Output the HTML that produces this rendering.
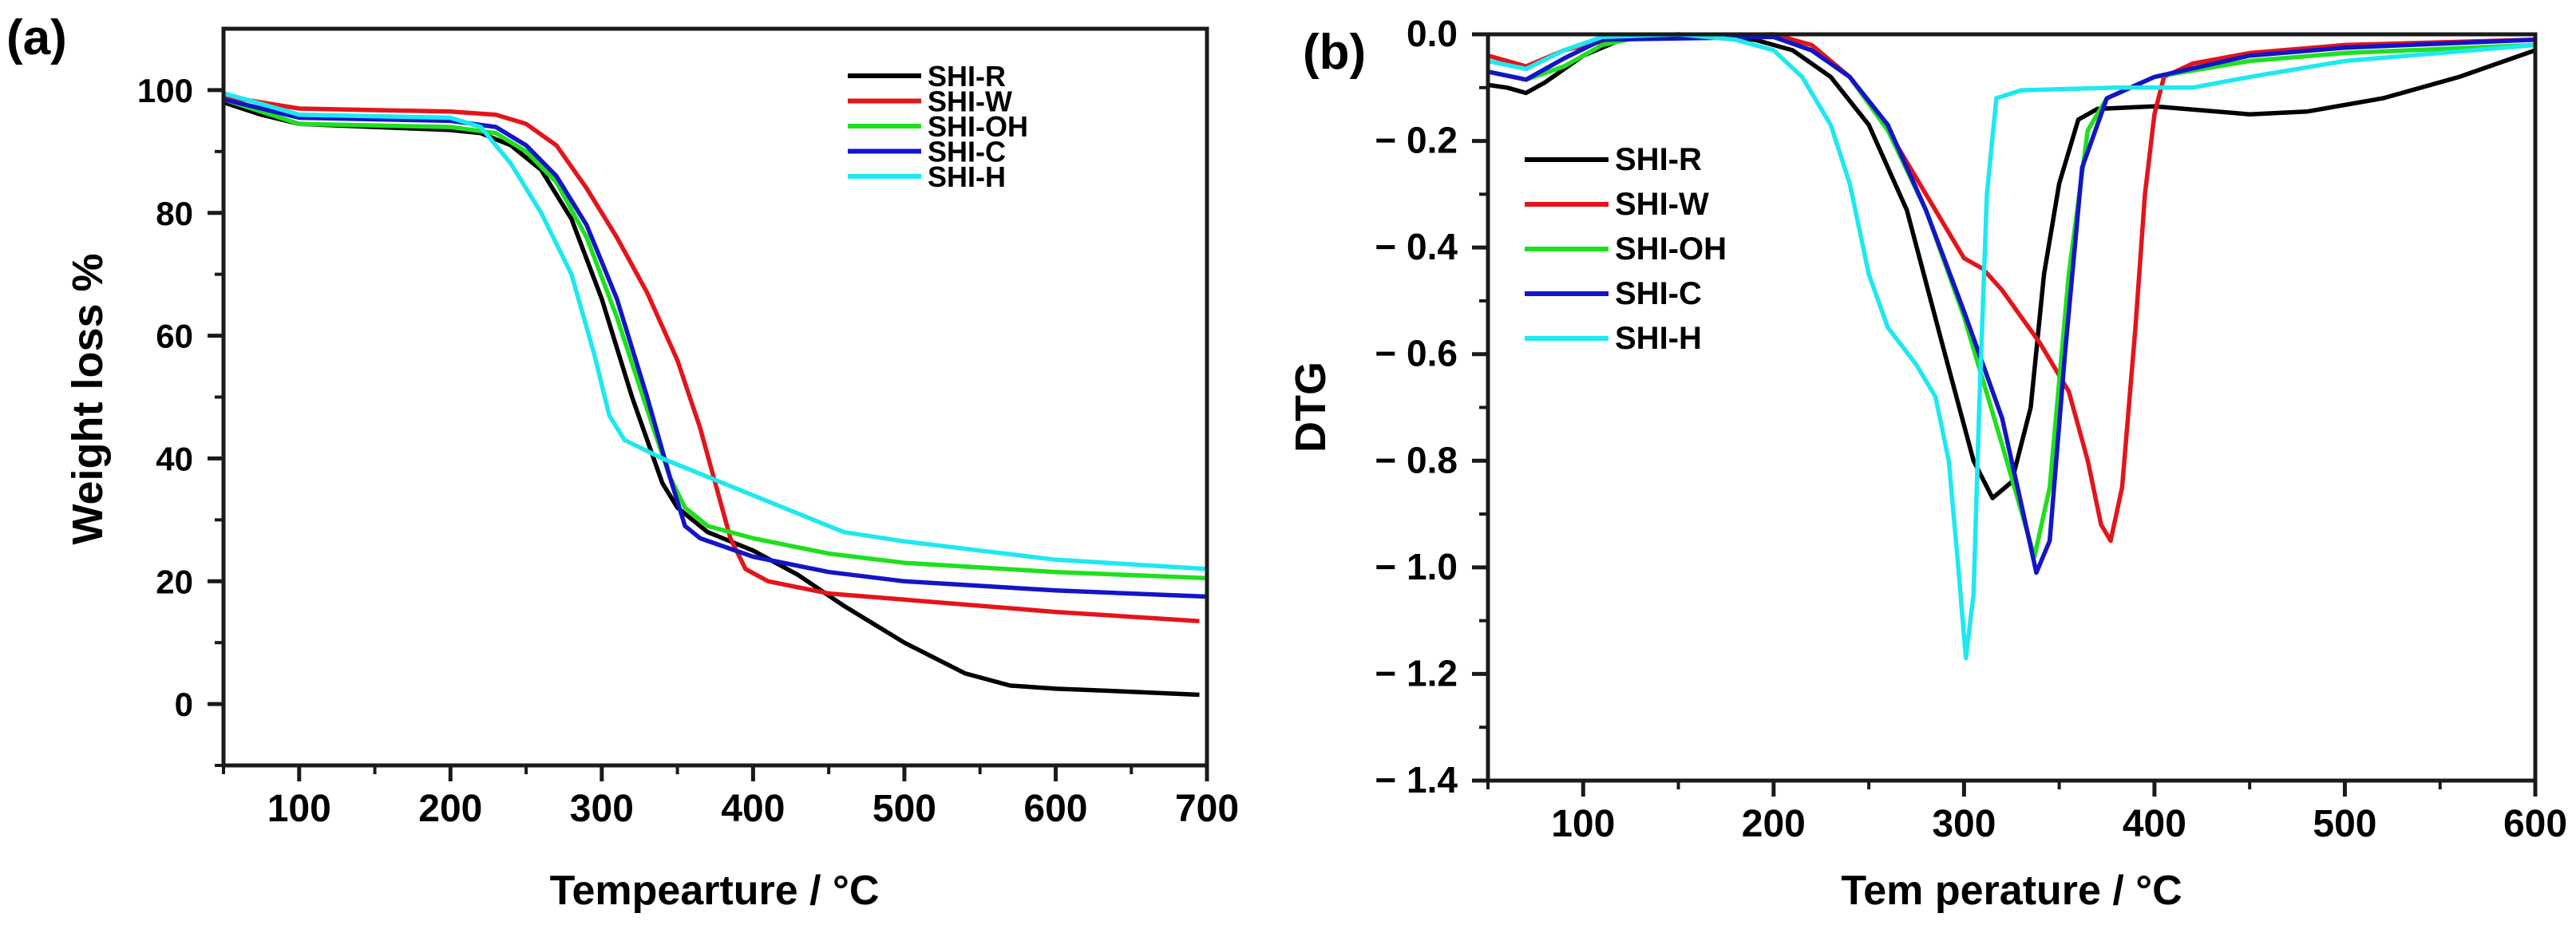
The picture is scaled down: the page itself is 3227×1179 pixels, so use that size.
<!DOCTYPE html>
<html><head><meta charset="utf-8"><style>
html,body{margin:0;padding:0;background:#fff;}
svg{display:block;font-family:"Liberation Sans",Arial,sans-serif;font-weight:bold;}
</style></head><body>
<svg id="fig" width="3227" height="1179" viewBox="0 0 3227 1179" xmlns="http://www.w3.org/2000/svg">
<text x="8" y="68" font-size="62">(a)</text>
<text x="1632" y="86" font-size="62">(b)</text>
<text x="895" y="1133" font-size="52" text-anchor="middle">Tempearture / °C</text>
<text transform="translate(128,500) rotate(-90)" font-size="54" text-anchor="middle">Weight loss %</text>
<text x="2520" y="1133" font-size="52" text-anchor="middle">Tem perature / °C</text>
<text transform="translate(1660,510) rotate(-90)" font-size="54" text-anchor="middle">DTG</text>
<g id="ga"></g>
<g id="gb"></g>
</svg>
<script>
const seriesNames = ["SHI-R","SHI-W","SHI-OH","SHI-C","SHI-H"];
const seriesColors = ["#000000","#e3151a","#1ee01e","#1414c8","#1ee8f0"];
const aXTicks = [100,200,300,400,500,600,700];
const aYTicks = [0,20,40,60,80,100];
const bXTicks = [100,200,300,400,500,600];
const bYTicks = [0,-0.2,-0.4,-0.6,-0.8,-1.0,-1.2,-1.4];
const bYTickLabels = ["0.0","\u2212 0.2","\u2212 0.4","\u2212 0.6","\u2212 0.8","\u2212 1.0","\u2212 1.2","\u2212 1.4"];
const tgaR = [[50,98],[75,96],[100,94.5],[150,94],[200,93.5],[220,93],[240,91],[260,87],[280,79],[300,66],[320,50],[340,36],[350,32],[370,28],[400,25],[430,21],[460,16],[500,10],[540,5],[570,3],[600,2.5],[650,2],[695,1.5]];
const tgaW = [[50,99],[100,97],[200,96.5],[230,96],[250,94.5],[270,91],[290,84],[310,76],[330,67],[350,56],[365,45],[375,36],[385,27],[395,22],[410,20],[450,18],[500,17],[600,15],[695,13.5]];
const tgaOH = [[50,98.5],[100,94.5],[200,94],[230,93],[250,90],[270,85],[290,76],[310,63],[330,48],[345,37],[355,32],[370,29],[400,27],[450,24.5],[500,23],[600,21.5],[700,20.5]];
const tgaC = [[50,98.5],[100,95.5],[200,95],[230,94],[250,91],[270,86],[290,78],[310,66],[330,50],[345,37],[355,29],[365,27],[400,24],[450,21.5],[500,20],[600,18.5],[700,17.5]];
const tgaH = [[50,99.5],[100,96],[200,95.5],[220,94],[240,88],[260,80],[280,70],[295,57],[305,47],[315,43],[340,40],[380,36],[420,32],[460,28],[500,26.5],[550,25],[600,23.5],[700,22]];
const dtgR = [[50,-0.095],[60,-0.1],[70,-0.11],[80,-0.09],[100,-0.04],[120,-0.01],[150,0],[190,-0.01],[210,-0.03],[230,-0.08],[250,-0.17],[270,-0.33],[290,-0.6],[305,-0.8],[315,-0.87],[325,-0.84],[335,-0.7],[342,-0.45],[350,-0.28],[360,-0.16],[370,-0.14],[400,-0.135],[450,-0.15],[480,-0.145],[520,-0.12],[560,-0.08],[600,-0.03]];
const dtgW = [[50,-0.04],[70,-0.06],[90,-0.03],[120,-0.005],[200,0],[220,-0.02],[240,-0.08],[260,-0.18],[280,-0.3],[300,-0.42],[310,-0.44],[320,-0.48],[340,-0.58],[355,-0.67],[365,-0.8],[372,-0.92],[377,-0.95],[383,-0.85],[390,-0.55],[395,-0.3],[400,-0.15],[405,-0.08],[420,-0.055],[450,-0.035],[500,-0.02],[600,-0.01]];
const dtgOH = [[50,-0.07],[70,-0.085],[90,-0.06],[110,-0.02],[130,-0.005],[200,-0.005],[220,-0.03],[240,-0.08],[260,-0.18],[280,-0.33],[300,-0.53],[320,-0.77],[337,-0.98],[345,-0.85],[355,-0.45],[365,-0.18],[375,-0.12],[400,-0.08],[450,-0.05],[500,-0.035],[600,-0.02]];
const dtgC = [[50,-0.07],[70,-0.085],[90,-0.045],[110,-0.01],[200,-0.005],[220,-0.03],[240,-0.08],[260,-0.17],[280,-0.33],[300,-0.52],[320,-0.72],[330,-0.88],[338,-1.01],[345,-0.95],[353,-0.6],[362,-0.25],[375,-0.12],[400,-0.08],[450,-0.04],[500,-0.025],[600,-0.01]];
const dtgH = [[50,-0.05],[70,-0.065],[90,-0.03],[110,-0.005],[150,0],[180,-0.01],[200,-0.03],[215,-0.08],[230,-0.17],[240,-0.28],[250,-0.45],[260,-0.55],[275,-0.62],[285,-0.68],[292,-0.8],[297,-1.0],[301,-1.17],[305,-1.05],[308,-0.7],[312,-0.3],[317,-0.12],[330,-0.105],[380,-0.1],[420,-0.1],[450,-0.08],[500,-0.05],[600,-0.02]];

const NS="http://www.w3.org/2000/svg";
function mk(tag,attrs,parent){const e=document.createElementNS(NS,tag);for(const k in attrs)e.setAttribute(k,attrs[k]);parent.appendChild(e);return e;}

function panel(g,cfg){
  const sx=v=>cfg.x0+(v-cfg.xmin)/(cfg.xmax-cfg.xmin)*(cfg.x1-cfg.x0);
  const sy=v=>cfg.y0+(cfg.ymax-v)/(cfg.ymax-cfg.ymin)*(cfg.y1-cfg.y0);
  cfg.data.forEach((d,i)=>{
    const p=mk('path',{d:d.map((pt,j)=>(j?'L':'M')+sx(pt[0]).toFixed(1)+','+sy(pt[1]).toFixed(1)).join(''),fill:'none',stroke:seriesColors[i],'stroke-width':5.5,'stroke-linejoin':'round'},g);
    
    
  });
  const fr=mk('rect',{x:cfg.x0,y:cfg.y0,width:cfg.x1-cfg.x0,height:cfg.y1-cfg.y0,fill:'none',stroke:'#1a1a1a','stroke-width':5},g);
  
  
  cfg.xt.forEach(v=>{
    const t=mk('line',{x1:sx(v),x2:sx(v),y1:cfg.y1,y2:cfg.y1+20,stroke:'#1a1a1a','stroke-width':5},g);
    
    
    const m=mk('line',{x1:sx(v-50),x2:sx(v-50),y1:cfg.y1,y2:cfg.y1+11,stroke:'#1a1a1a','stroke-width':4},g);
    
    
    const l=mk('text',{x:sx(v),y:cfg.y1+70,'font-size':48,'text-anchor':'middle'},g);
    l.textContent=v;
    
    
  });
  cfg.yt.forEach((v,i)=>{
    const t=mk('line',{x1:cfg.x0-20,x2:cfg.x0,y1:sy(v),y2:sy(v),stroke:'#1a1a1a','stroke-width':5},g);
    
    
    const mv=v-cfg.ystep/2;
    if(mv>=cfg.ymin){
      const m=mk('line',{x1:cfg.x0-11,x2:cfg.x0,y1:sy(mv),y2:sy(mv),stroke:'#1a1a1a','stroke-width':4},g);
      
      
    }
    const l=mk('text',{x:cfg.x0-38,y:sy(v)+15,'font-size':cfg.yfs,'text-anchor':'end'},g);
    l.textContent=cfg.ytl?cfg.ytl[i]:v;
    
    
  });
  if(cfg.extraMinor){const v=cfg.ymax-cfg.ystep/2;const m=mk('line',{x1:cfg.x0-11,x2:cfg.x0,y1:sy(v),y2:sy(v),stroke:'#1a1a1a','stroke-width':4},g);}
  seriesNames.forEach((n,i)=>{
    const y=cfg.ly+i*cfg.lsp;
    const ln=mk('line',{x1:cfg.lx,x2:cfg.lx+cfg.lw,y1:y,y2:y,stroke:seriesColors[i],'stroke-width':6},g);
    
    
    const tx=mk('text',{x:cfg.lx+cfg.lw+8,y:y+13,'font-size':cfg.lfs},g);
    tx.textContent=n;
    
    
  });
}
panel(document.getElementById('ga'),{x0:280,x1:1512,y0:36,y1:959,xmin:50,xmax:700,ymin:-10,ymax:110,ystep:20,
  xt:aXTicks,yt:aYTicks,yfs:42,data:[tgaR,tgaW,tgaOH,tgaC,tgaH],lx:1062,lw:92,ly:95,lsp:31.5,lfs:36,extraMinor:true});
panel(document.getElementById('gb'),{x0:1864,x1:3176,y0:43,y1:978,xmin:50,xmax:600,ymin:-1.4,ymax:0,ystep:0.2,
  xt:bXTicks,yt:bYTicks,ytl:bYTickLabels,yfs:46,data:[dtgR,dtgW,dtgOH,dtgC,dtgH],lx:1910,lw:105,ly:200,lsp:56,lfs:40});
</script>
</body></html>
